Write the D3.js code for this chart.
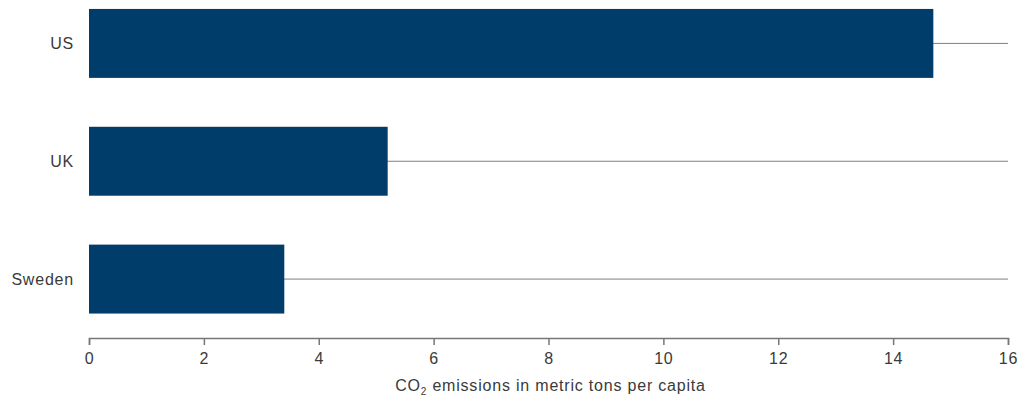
<!DOCTYPE html>
<html>
<head>
<meta charset="utf-8">
<script src="https://cdn.jsdelivr.net/npm/d3@7"></script>
<style>
  body { margin: 0; background: #fff; }
  svg text { font-family: "Liberation Sans", Arial, sans-serif; fill: #3a3a3a; letter-spacing: 0.8px; }
</style>
</head>
<body>
<svg id="chart" width="1032" height="401"></svg>
<script>
// data
const countries = ["US", "UK", "Sweden"];
const emissions = [14.7, 5.2, 3.4];
const xTicks = [0, 2, 4, 6, 8, 10, 12, 14, 16];

const svg = d3.select('#chart');
const margin = { left: 89, right: 24, top: -15.5, bottom: 63 };
const width = 1032, height = 401;

const x = d3.scaleLinear()
            .domain([0, 16])
            .range([margin.left, width - margin.right]);

const y = d3.scaleBand()
            .domain(countries)
            .range([margin.top, height - margin.bottom])
            .paddingInner(0.415)
            .paddingOuter(0.2075);

// grid lines through the bar centers
svg.append('g')
   .selectAll('line')
   .data(countries)
   .join('line')
   .attr('x1', x(0))
   .attr('x2', x(16))
   .attr('y1', d => y(d) + y.bandwidth() / 2)
   .attr('y2', d => y(d) + y.bandwidth() / 2)
   .attr('stroke', '#808080')
   .attr('stroke-width', 1);

// bars
svg.append('g')
   .selectAll('rect')
   .data(countries)
   .join('rect')
   .attr('x', x(0))
   .attr('y', d => y(d))
   .attr('width', (d, i) => x(emissions[i]) - x(0))
   .attr('height', y.bandwidth())
   .attr('fill', '#003d6a');

// x axis
const xAxis = svg.append('g')
   .attr('transform', `translate(0, ${height - margin.bottom})`)
   .call(d3.axisBottom(x).tickValues(xTicks).tickSize(7).tickPadding(8).tickFormat(d3.format('d')));

xAxis.select('.domain').attr('stroke', '#777').attr('stroke-width', 1.5);
xAxis.selectAll('.tick line').attr('stroke', '#777').attr('stroke-width', 1.5);
xAxis.selectAll('.tick text').style('font-size', '16px').style('font-family', null);

// country labels
svg.append('g')
   .selectAll('text')
   .data(countries)
   .join('text')
   .attr('x', 74)
   .attr('y', d => y(d) + y.bandwidth() / 2)
   .attr('text-anchor', 'end')
   .attr('dy', '0.35em')
   .style('font-size', '16px')
   .text(d => d);

// axis title
const title = svg.append('text')
   .attr('x', (x(0) + x(16)) / 2 + 2)
   .attr('y', 391)
   .attr('text-anchor', 'middle')
   .style('font-size', '16px');
title.append('tspan').text('CO');
title.append('tspan').attr('dy', 4).style('font-size', '10px').text('2');
title.append('tspan').attr('dy', -4).text(' emissions in metric tons per capita');
</script>
</body>
</html>
